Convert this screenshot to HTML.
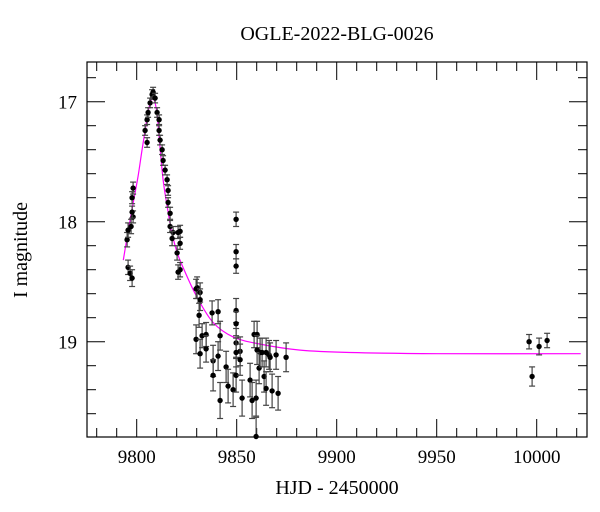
<!DOCTYPE html>
<html><head><meta charset="utf-8"><style>
html,body{margin:0;padding:0;background:#fff;}
svg{display:block;font-family:"Liberation Serif",serif;}
</style></head><body>
<svg id="chart" width="600" height="512" viewBox="0 0 600 512" xmlns="http://www.w3.org/2000/svg">
<text x="337" y="40" text-anchor="middle" font-size="20">OGLE-2022-BLG-0026</text>
<text x="337" y="494" text-anchor="middle" font-size="20">HJD - 2450000</text>
<text transform="translate(27,250) rotate(-90)" text-anchor="middle" font-size="20">I magnitude</text>
<g id="axes"></g>
<g id="curve"></g>
<g id="points"></g>
</svg>
<script>
const days = [9795.7,9796.7,9797.7,9795.2,9795.7,9797.2,9798.2,9797.7,9798.2,9797.7,9805.2,9804.2,9805.2,9805.7,9806.7,9807.7,9808.2,9809.2,9810.2,9811.2,9811.2,9811.7,9812.7,9813.2,9814.2,9815.2,9815.7,9815.7,9816.7,9816.7,9818.2,9820.7,9817.7,9820.2,9821.7,9820.7,9821.7,9821.7,9830.2,
9849.7,9849.7,9849.7,9829.7,9831.7,9831.7,9831.2,9829.7,9831.7,9832.7,9834.7,9834.7,9837.7,9840.7,9841.7,9838.2,9840.7,9838.2,9841.7,9844.7,9845.7,9848.2,9849.7,9849.7,9849.7,9849.7,9851.7,9851.7,9849.7,9852.7,9856.7,9857.7,9858.7,9860.2,9860.2,9861.7,9859.7,9859.7,9861.2,9863.7,9862.7,9864.7,9866.2,9864.7,9866.7,9867.7,9869.7,9870.7,9874.7,9996.2,9997.7,10001.2,10005.2];
const mags = [18.38,18.43,18.47,18.15,18.07,18.04,17.96,17.80,17.72,17.92,17.34,17.24,17.15,17.09,17.01,16.94,16.92,16.97,17.09,17.15,17.24,17.32,17.40,17.49,17.57,17.65,17.74,17.84,17.93,18.04,18.09,18.09,18.14,18.26,18.40,18.42,18.08,18.18,18.55,
17.98,18.25,18.37,18.56,18.59,18.65,18.78,18.98,19.10,18.95,18.94,19.06,18.76,18.75,18.95,19.16,19.12,19.28,19.49,19.21,19.37,19.40,18.74,18.85,19.01,19.28,19.08,19.15,19.09,19.47,19.32,19.49,18.94,18.94,19.07,19.09,19.47,19.79,19.22,19.29,19.09,19.09,19.11,19.39,19.13,19.41,19.11,19.43,19.13,19.00,19.29,19.04,18.99];
const errs = [0.06,0.06,0.07,0.06,0.06,0.06,0.05,0.05,0.05,0.05,0.04,0.04,0.04,0.04,0.04,0.04,0.04,0.04,0.04,0.04,0.04,0.04,0.04,0.04,0.04,0.04,0.04,0.04,0.05,0.05,0.05,0.05,0.06,0.06,0.06,0.06,0.05,0.05,0.09,
0.06,0.06,0.06,0.08,0.08,0.09,0.10,0.12,0.12,0.10,0.10,0.11,0.10,0.10,0.12,0.13,0.12,0.13,0.15,0.13,0.14,0.14,0.10,0.10,0.12,0.14,0.12,0.13,0.12,0.15,0.14,0.15,0.11,0.11,0.12,0.12,0.15,0.16,0.13,0.13,0.12,0.12,0.12,0.14,0.12,0.14,0.12,0.14,0.12,0.06,0.08,0.07,0.06];
const modelDays = [9793.3,9796,9798.5,9800.7,9802.5,9804.2,9806,9808.0,9810,9811.5,9813.2,9815.5,9817.7,9820.5,9824.2,9830.2,9838.2,9848.2,9861.7,9881.7,9906.7,9950,10022];
const modelMags = [18.32,18.05,17.82,17.62,17.42,17.24,17.06,16.97,17.08,17.35,17.65,17.90,18.10,18.27,18.42,18.63,18.84,18.96,19.02,19.07,19.09,19.10,19.10];
const xTicks = [9800,9850,9900,9950,10000];
const yTicks = [17,18,19];

const L=87,R=587,T=62,B=437;
const X = d => 136.7 + (d-9800)*2;
const Y = m => 101.7 + (m-17)*120;
const NS="http://www.w3.org/2000/svg";
function mk(tag, attrs, parent){const e=document.createElementNS(NS,tag);for(const k in attrs)e.setAttribute(k,attrs[k]);parent.appendChild(e);return e;}
const axes=document.getElementById('axes');
const frame=mk('rect',{x:L,y:T,width:R-L,height:B-T,fill:'none',stroke:'#000','stroke-width':1.2},axes);


for(let d=9780; d<=10020; d+=10){
  const x=X(d); if(x<L||x>R) continue;
  const major = d%50===0;
  const len = major?18:9;
  const t1=mk('line',{x1:x,y1:B,x2:x,y2:B-len,stroke:'#000','stroke-width':1},axes);
  
  
  const t2=mk('line',{x1:x,y1:T,x2:x,y2:T+len,stroke:'#000','stroke-width':1},axes);
  
  
}
xTicks.forEach(v=>{
  const t=mk('text',{x:X(v),y:463,'text-anchor':'middle','font-size':19},axes);
  t.textContent=v;
  
  
});
for(let i=0;i<=20;i++){
  const m=16.6+i*0.2; const y=Y(m); if(y<T||y>B) continue;
  const major=Math.abs(m-Math.round(m))<1e-6;
  const len=major?18:9;
  const t1=mk('line',{x1:L,y1:y,x2:L+len,y2:y,stroke:'#000','stroke-width':1},axes);
  
  
  const t2=mk('line',{x1:R,y1:y,x2:R-len,y2:y,stroke:'#000','stroke-width':1},axes);
  
  
}
yTicks.forEach(v=>{
  const t=mk('text',{x:77,y:Y(v)+7,'text-anchor':'end','font-size':19},axes);
  t.textContent=v;
  
  
});
const cg=document.getElementById('curve');
const pts=modelDays.map((d,i)=>[X(d),Y(modelMags[i])]);
let dstr='M'+pts[0][0]+','+pts[0][1];
for(let i=0;i<pts.length-1;i++){
  const p0=pts[Math.max(0,i-1)],p1=pts[i],p2=pts[i+1],p3=pts[Math.min(pts.length-1,i+2)];
  const c1=[p1[0]+(p2[0]-p0[0])/6,p1[1]+(p2[1]-p0[1])/6];
  const c2=[p2[0]-(p3[0]-p1[0])/6,p2[1]-(p3[1]-p1[1])/6];
  dstr+=` C${c1[0]},${c1[1]} ${c2[0]},${c2[1]} ${p2[0]},${p2[1]}`;
}
const path=mk('path',{d:dstr,fill:'none',stroke:'#ff00ff','stroke-width':1.2},cg);


const pg=document.getElementById('points');
days.forEach((d,i)=>{
  const x=X(d),y=Y(mags[i]);
  const y1=Math.max(T,Y(mags[i]-errs[i])),y2=Math.min(B,Y(mags[i]+errs[i]));
  const g=mk('g',{},pg);
  
  
  mk('line',{x1:x,y1:y1,x2:x,y2:y2,stroke:'#444','stroke-width':1.2},g);
  mk('line',{x1:x-3,y1:y1,x2:x+3,y2:y1,stroke:'#444','stroke-width':1.2},g);
  mk('line',{x1:x-3,y1:y2,x2:x+3,y2:y2,stroke:'#444','stroke-width':1.2},g);
  mk('circle',{cx:x,cy:y,r:2.7,fill:'#000'},g);
});
</script>
</body></html>
